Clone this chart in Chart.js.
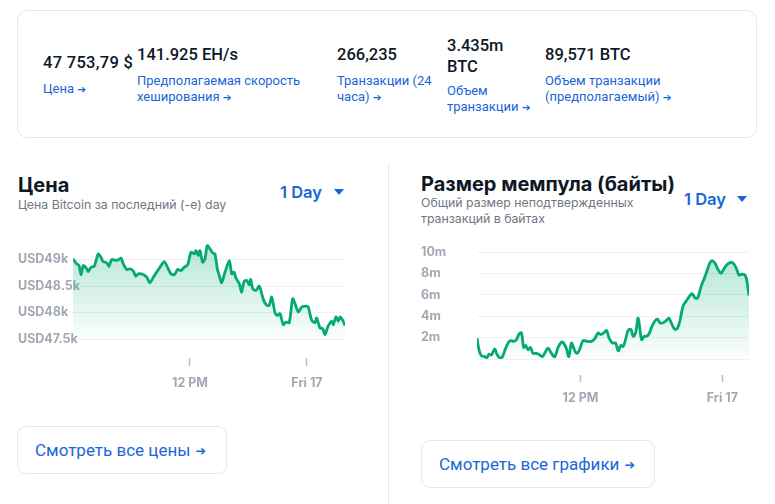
<!DOCTYPE html>
<html><head><meta charset="utf-8">
<script src="https://cdn.jsdelivr.net/npm/chart.js@4.4.1/dist/chart.umd.min.js"></script>
<style>
body{margin:0;width:775px;height:504px;background:#fff;position:relative;overflow:hidden;font-family:Roboto,sans-serif;}
.a{position:absolute;white-space:nowrap;}
.card{position:absolute;left:17px;top:10px;width:740px;height:128px;border:1px solid #e4e7eb;border-radius:10px;box-sizing:border-box;}
.val{font-weight:500;font-size:16.5px;line-height:21px;color:#0e1726;}
.lnk{font-size:13px;line-height:16px;color:#1a66d6;}
.ar{font-family:'DejaVu Sans',sans-serif;font-size:10.5px;}
.ttl{font-family:Inter,sans-serif;font-weight:700;font-size:20px;line-height:24px;color:#0e1726;}
.sub{font-family:Inter,sans-serif;font-size:12.3px;line-height:16px;color:#6f7682;}
.day{font-family:Inter,sans-serif;font-weight:600;font-size:16.5px;line-height:20px;color:#1667d9;}
.tri{position:absolute;width:0;height:0;border-left:5px solid transparent;border-right:5px solid transparent;border-top:6px solid #1667d9;}
.btn{position:absolute;border:1px solid #e4e7eb;border-radius:9px;box-sizing:border-box;font-size:17px;color:#1a66d6;display:flex;align-items:center;padding-left:17px;}
.btn .ar{font-size:12.5px;margin-left:5px;}
.div{position:absolute;left:388px;top:163px;width:1px;height:341px;background:#e6e8ec;}
.cw{position:absolute;}
</style></head>
<body>
<div class="card"></div>
<div class="a val" style="left:43px;top:52px;letter-spacing:0.3px">47 753,79 $</div>
<div class="a lnk" style="left:43px;top:81px">Цена <span class="ar">➔</span></div>
<div class="a val" style="left:137px;top:44px">141.925 EH/s</div>
<div class="a lnk" style="left:137px;top:73px">Предполагаемая скорость<br>хеширования <span class="ar">➔</span></div>
<div class="a val" style="left:337px;top:44px">266,235</div>
<div class="a lnk" style="left:337px;top:73px">Транзакции (24<br>часа) <span class="ar">➔</span></div>
<div class="a val" style="left:447px;top:35px">3.435m<br>BTC</div>
<div class="a lnk" style="left:447px;top:83px">Объем<br>транзакции <span class="ar">➔</span></div>
<div class="a val" style="left:545px;top:44px">89,571 BTC</div>
<div class="a lnk" style="left:545px;top:73px">Объем транзакции<br>(предполагаемый) <span class="ar">➔</span></div>

<div class="a ttl" style="left:18px;top:173px">Цена</div>
<div class="a sub" style="left:18px;top:197px">Цена Bitcoin за последний (-е) day</div>
<div class="a day" style="left:280px;top:182px">1 Day</div>
<div class="tri" style="left:334px;top:189px"></div>

<div class="div"></div>

<div class="a ttl" style="left:421px;top:172px">Размер мемпула (байты)</div>
<div class="a sub" style="left:421px;top:195px">Общий размер неподтвержденных<br>транзакций в байтах</div>
<div class="a day" style="left:684px;top:189px">1 Day</div>
<div class="tri" style="left:737px;top:196px"></div>

<div class="cw" style="left:18px;top:236px;width:330px;height:165px"><canvas id="c1"></canvas></div>
<div class="cw" style="left:421px;top:244px;width:331px;height:171px"><canvas id="c2"></canvas></div>

<div class="btn" style="left:17px;top:426px;width:210px;height:48px">Смотреть все цены<span class="ar">➔</span></div>
<div class="btn" style="left:421px;top:440px;width:234px;height:48px">Смотреть все графики<span class="ar">➔</span></div>

<script>
// Price (USD), hours since Thu 16 00:00
const priceHours = [0.0,0.38,0.62,0.82,1.06,1.41,1.57,1.85,2.18,2.59,2.87,3.08,3.46,3.69,3.97,4.31,4.65,4.92,5.16,5.51,5.85,6.18,6.43,6.70,7.21,7.56,7.89,8.24,8.58,8.92,9.36,9.77,10.05,10.39,10.74,11.08,11.41,11.76,12.10,12.44,12.61,12.85,13.02,13.30,13.54,13.77,14.05,14.33,14.56,14.80,15.00,15.25,15.59,16.03,16.28,16.51,16.72,17.06,17.30,17.54,17.81,18.08,18.23,18.43,18.77,19.11,19.52,19.87,20.13,20.38,20.72,20.95,21.23,21.57,21.85,22.18,22.53,22.77,23.11,23.46,23.90,24.13,24.48,24.82,24.99,25.33,25.61,25.84,26.18,26.53,26.70,26.97,27.21,27.38,27.66,27.90];
const priceValues = [49013,48919,48887,48712,48887,48825,48774,48855,48874,49107,49043,48962,48938,48874,49000,48987,48994,49025,48919,48812,48825,48787,48686,48731,48718,48667,48562,48667,48761,48855,48962,48825,48731,48712,48812,48793,48855,48900,49137,49107,49169,49075,49169,48949,49013,49263,49201,49126,49107,48825,48699,48562,48761,48981,48731,48761,48649,48543,48385,48586,48605,48524,48624,48449,48417,48498,48248,48135,48135,48291,47998,47947,47979,47771,47820,47809,48261,48167,48009,48103,48122,48103,47853,47809,47896,47709,47697,47585,47746,47835,47771,47915,47835,47915,47853,47754];
const priceTicks = [47500, 48000, 48500, 49000];

// Mempool size (millions of bytes), hours since Thu 16 00:00
const mempoolHours = [3.24,3.41,3.61,3.89,4.08,4.25,4.46,4.74,4.93,5.16,5.39,5.67,6.01,6.35,6.58,6.80,7.00,7.19,7.36,7.56,7.76,7.98,8.27,8.55,8.78,8.97,9.25,9.54,9.82,10.10,10.39,10.58,10.81,11.01,11.24,11.43,11.66,11.88,12.22,12.56,12.93,13.21,13.49,13.69,13.97,14.20,14.42,14.71,14.97,15.19,15.42,15.61,15.81,16.03,16.26,16.46,16.66,16.88,17.17,17.39,17.59,17.79,18.02,18.30,18.53,18.72,19.00,19.29,19.48,19.71,19.99,20.22,20.42,20.69,20.98,21.26,21.46,21.69,21.92,22.19,22.47,22.68,22.96,23.15,23.38,23.66,23.89,24.08,24.37,24.66,24.93,25.22,25.42,25.69,25.92,26.07,26.26];
const mempoolValues = [1.96,0.86,0.31,0.22,0.12,0.44,0.38,0.95,0.44,0.12,0.22,1.01,1.71,1.65,1.81,2.34,2.44,1.08,1.27,0.86,1.08,0.53,0.53,0.38,0.22,0.53,1.01,0.53,0.22,1.08,1.58,1.49,0.95,0.22,1.49,1.01,0.53,0.76,1.71,1.65,1.65,1.90,2.44,2.29,2.44,2.67,1.96,1.49,1.49,0.76,1.27,1.17,1.81,2.67,2.76,2.12,2.44,3.81,1.81,2.12,2.12,2.34,2.98,3.55,3.71,3.39,3.39,3.62,3.81,3.30,2.76,2.91,3.62,4.98,5.46,5.93,6.10,5.71,5.71,6.72,7.52,8.15,9.01,9.20,8.95,8.31,8.00,8.31,8.79,9.01,8.95,8.38,7.84,7.93,7.84,7.36,5.93];
const mempoolTicks = [0, 2, 4, 6, 8, 10];

const timeTickHours = [12, 24];
const timeTickLabels = ['12 PM', 'Fri 17'];

const GREEN = '#03aa75';
const tickFont = {family: 'Inter', weight: '700', size: 12.5};
const tickColor = '#a2a8b3';

function fillGrad(ctx) {
  const ch = ctx.chart, a = ch.chartArea;
  if (!a) return 'rgba(3,170,117,0.2)';
  const g = ch.ctx.createLinearGradient(0, a.top, 0, a.bottom);
  g.addColorStop(0, 'rgba(3,170,117,0.30)');
  g.addColorStop(1, 'rgba(3,170,117,0.02)');
  return g;
}

function makeChart(id, xs, ys, cfg) {
  return new Chart(document.getElementById(id), {
    type: 'line',
    data: {datasets: [{
      data: xs.map((x, i) => ({x: x, y: ys[i]})),
      borderColor: GREEN, borderWidth: 2.8, pointRadius: 0,
      tension: cfg.tension, fill: 'start', backgroundColor: fillGrad
    }]},
    options: {
      responsive: true, maintainAspectRatio: false, animation: false,
      layout: {padding: {top: cfg.padTop, right: 3, left: 0, bottom: 0}},
      plugins: {legend: {display: false}, tooltip: {enabled: false}},
      scales: {
        x: {
          type: 'linear', min: cfg.xMin, max: cfg.xMax,
          afterBuildTicks: s => { s.ticks = timeTickHours.map(v => ({value: v})); },
          ticks: {callback: (v, i) => timeTickLabels[i], font: tickFont, color: tickColor,
                  padding: cfg.xPad, maxRotation: 0, autoSkip: false},
          grid: {drawOnChartArea: false, drawTicks: true, tickLength: cfg.gap + cfg.tl,
                 tickBorderDash: [0, cfg.gap, cfg.tl, 100], tickColor: '#b8bdc6', tickWidth: 1.5},
          border: {display: false}
        },
        y: {
          min: cfg.yMin, max: cfg.yMax,
          afterBuildTicks: s => { s.ticks = cfg.yTicks.map(v => ({value: v})); },
          afterFit: s => { s.width = cfg.yWidth; },
          ticks: {callback: cfg.yLabel, font: tickFont, color: tickColor, mirror: true, padding: -cfg.yWidth},
          grid: {color: '#eef0f3', lineWidth: 1, drawTicks: false},
          border: {display: false}
        }
      }
    }
  });
}

makeChart('c1', priceHours, priceValues, {
  tension: 0.25, padTop: 5, xMin: 0, xMax: 27.9, xPad: 10, gap: 19, tl: 8,
  yMin: 47500, yMax: 49350, yTicks: priceTicks, yWidth: 55,
  yLabel: v => 'USD' + (v / 1000) + 'k'
});
makeChart('c2', mempoolHours, mempoolValues, {
  tension: 0.35, padTop: 8, xMin: 3.24, xMax: 26.26, xPad: 9, gap: 16, tl: 7,
  yMin: 0, yMax: 10, yTicks: mempoolTicks, yWidth: 56,
  yLabel: v => v === 0 ? '' : v + 'm'
});
</script>
</body></html>
